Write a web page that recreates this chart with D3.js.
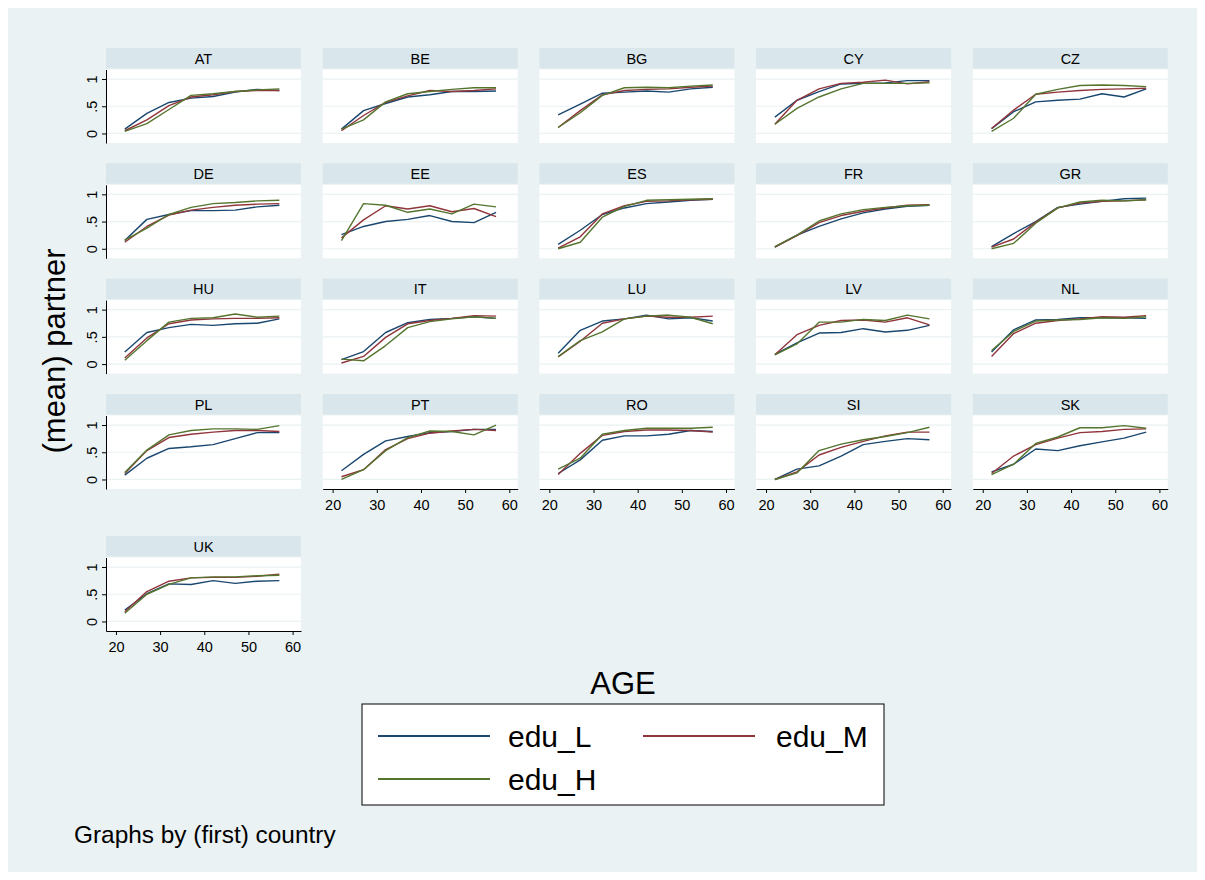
<!DOCTYPE html>
<html>
<head>
<meta charset="utf-8">
<script src="https://cdn.jsdelivr.net/npm/d3@7"></script>
<style>
  html, body { margin: 0; padding: 0; background: #ffffff; }
  svg { display: block; font-family: "Liberation Sans", Arial, sans-serif; }
</style>
</head>
<body>
<svg id="chart" width="1205" height="880"></svg>
<script>
// Share of respondents living with a partner, by age group and education level
const countries = ["AT","BE","BG","CY","CZ","DE","EE","ES","FR","GR",
                   "HU","IT","LU","LV","NL","PL","PT","RO","SI","SK","UK"];
const ages = [22, 27, 32, 37, 42, 47, 52, 57];
const xTicks = [20, 30, 40, 50, 60];
const yTicks = [0, 0.5, 1];
const yTickLabels = ["0", ".5", "1"];
const seriesNames = ["edu_L", "edu_M", "edu_H"];

const eduL = {
  AT: [0.08,0.37,0.57,0.65,0.68,0.76,0.81,0.79],
  BE: [0.08,0.42,0.55,0.67,0.71,0.77,0.77,0.78],
  BG: [0.34,0.54,0.74,0.76,0.78,0.76,0.82,0.85],
  CY: [0.30,0.61,0.77,0.91,0.92,0.93,0.97,0.97],
  CZ: [0.09,0.40,0.58,0.61,0.63,0.73,0.67,0.82],
  DE: [0.15,0.54,0.63,0.70,0.70,0.71,0.77,0.80],
  EE: [0.26,0.41,0.50,0.54,0.61,0.50,0.48,0.67],
  ES: [0.08,0.34,0.63,0.75,0.83,0.86,0.89,0.91],
  FR: [0.03,0.25,0.41,0.55,0.66,0.73,0.78,0.80],
  GR: [0.04,0.28,0.50,0.76,0.82,0.87,0.92,0.93],
  HU: [0.22,0.58,0.67,0.73,0.71,0.74,0.75,0.83],
  IT: [0.08,0.23,0.58,0.76,0.82,0.84,0.87,0.84],
  LU: [0.20,0.62,0.79,0.83,0.90,0.83,0.85,0.79],
  LV: [0.18,0.39,0.57,0.58,0.65,0.59,0.62,0.71],
  NL: [0.22,0.63,0.81,0.82,0.85,0.85,0.85,0.84],
  PL: [0.08,0.39,0.57,0.60,0.64,0.75,0.86,0.86],
  PT: [0.16,0.46,0.71,0.79,0.86,0.88,0.92,0.92],
  RO: [0.11,0.36,0.72,0.80,0.80,0.83,0.90,0.88],
  SI: [0.00,0.19,0.25,0.43,0.64,0.70,0.75,0.73],
  SK: [0.14,0.28,0.56,0.53,0.62,0.69,0.76,0.87],
  UK: [0.21,0.51,0.69,0.68,0.75,0.70,0.74,0.75]
};
const eduM = {
  AT: [0.05,0.25,0.51,0.67,0.71,0.77,0.79,0.79],
  BE: [0.05,0.33,0.57,0.69,0.79,0.77,0.79,0.82],
  BG: [0.11,0.42,0.71,0.79,0.81,0.82,0.85,0.87],
  CY: [0.17,0.61,0.82,0.92,0.94,0.98,0.91,0.95],
  CZ: [0.09,0.43,0.72,0.76,0.79,0.81,0.82,0.83],
  DE: [0.12,0.41,0.62,0.71,0.76,0.80,0.82,0.83],
  EE: [0.20,0.53,0.79,0.73,0.79,0.68,0.74,0.59],
  ES: [0.01,0.22,0.64,0.79,0.87,0.88,0.90,0.91],
  FR: [0.03,0.24,0.48,0.61,0.69,0.75,0.80,0.81],
  GR: [0.03,0.18,0.49,0.75,0.84,0.87,0.88,0.90],
  HU: [0.11,0.48,0.74,0.81,0.83,0.84,0.84,0.85],
  IT: [0.02,0.14,0.49,0.74,0.80,0.84,0.89,0.88],
  LU: [0.13,0.42,0.75,0.83,0.88,0.86,0.86,0.88],
  LV: [0.17,0.54,0.71,0.80,0.81,0.77,0.85,0.72],
  NL: [0.14,0.56,0.75,0.80,0.83,0.87,0.86,0.89],
  PL: [0.11,0.53,0.77,0.83,0.87,0.90,0.90,0.88],
  PT: [0.05,0.18,0.55,0.75,0.85,0.89,0.92,0.90],
  RO: [0.09,0.48,0.81,0.88,0.91,0.91,0.90,0.87],
  SI: [0.00,0.14,0.45,0.59,0.70,0.80,0.87,0.87],
  SK: [0.11,0.43,0.64,0.76,0.86,0.88,0.92,0.93],
  UK: [0.18,0.55,0.74,0.80,0.81,0.81,0.83,0.87]
};
const eduH = {
  AT: [0.04,0.18,0.44,0.70,0.73,0.77,0.80,0.82],
  BE: [0.08,0.25,0.58,0.73,0.77,0.81,0.84,0.84],
  BG: [0.11,0.38,0.70,0.84,0.85,0.84,0.87,0.89],
  CY: [0.17,0.46,0.67,0.82,0.92,0.92,0.92,0.93],
  CZ: [0.04,0.28,0.72,0.81,0.88,0.89,0.88,0.86],
  DE: [0.16,0.38,0.63,0.76,0.83,0.85,0.88,0.89],
  EE: [0.15,0.83,0.80,0.67,0.73,0.64,0.82,0.77],
  ES: [0.00,0.12,0.58,0.78,0.89,0.90,0.91,0.92],
  FR: [0.04,0.25,0.51,0.64,0.72,0.76,0.79,0.80],
  GR: [0.00,0.10,0.47,0.75,0.86,0.89,0.88,0.90],
  HU: [0.07,0.43,0.77,0.84,0.85,0.92,0.86,0.88],
  IT: [0.09,0.06,0.34,0.67,0.78,0.83,0.87,0.84],
  LU: [0.14,0.43,0.59,0.83,0.88,0.90,0.86,0.74],
  LV: [0.17,0.37,0.77,0.77,0.82,0.80,0.90,0.83],
  NL: [0.25,0.60,0.79,0.81,0.82,0.85,0.84,0.87],
  PL: [0.13,0.54,0.82,0.90,0.93,0.93,0.92,0.99],
  PT: [0.00,0.18,0.53,0.77,0.89,0.88,0.82,1.00],
  RO: [0.19,0.39,0.83,0.90,0.94,0.94,0.94,0.96],
  SI: [0.00,0.12,0.53,0.65,0.73,0.79,0.86,0.96],
  SK: [0.09,0.28,0.66,0.78,0.95,0.95,0.99,0.94],
  UK: [0.15,0.50,0.68,0.80,0.82,0.82,0.84,0.85]
};

const seriesData = [eduL, eduM, eduH];
const colors = ["#1a476f", "#90353b", "#55752f"];

// ---- layout ----
const BG = "#eaf2f3", STRIP = "#d9e6eb";
const FONT = "Liberation Sans, Arial, sans-serif";
const nCols = 5;
const colPitch = 216.7;
const panelLeft0 = 106;
const rowTops = [48, 163.3, 278.6, 394, 536];
const panelW = 195, stripH = 20.5, plotOffset = 21.5, plotH = 73.5;
const smallFont = 14.5;

const svg = d3.select("#chart");
svg.append("rect").attr("x", 8).attr("y", 8).attr("width", 1189).attr("height", 864).attr("fill", BG);

const x = d3.scaleLinear().domain([17.75, 61.9]).range([0, panelW]);
const y = d3.scaleLinear().domain([-0.175, 1.175]).range([plotH, 0]);
const line = d3.line().x((d, i) => x(ages[i])).y(d => y(d));

countries.forEach((c, idx) => {
  const col = idx % nCols, row = Math.floor(idx / nCols);
  const left = panelLeft0 + col * colPitch;
  const top = rowTops[row];
  const g = svg.append("g").attr("transform", `translate(${left},${top})`);

  // strip with panel title
  g.append("rect").attr("width", panelW).attr("height", stripH).attr("fill", STRIP);
  g.append("text").attr("x", panelW / 2).attr("y", 15.5)
    .attr("text-anchor", "middle").attr("font-size", smallFont).attr("fill", "#000").text(c);

  const p = g.append("g").attr("transform", `translate(0,${plotOffset})`);
  p.append("rect").attr("width", panelW).attr("height", plotH).attr("fill", "#fff");

  // horizontal grid
  p.selectAll("line.grid").data(yTicks).join("line")
    .attr("x1", 0).attr("x2", panelW)
    .attr("y1", d => y(d)).attr("y2", d => y(d))
    .attr("stroke", BG).attr("stroke-width", 1.2);

  // series
  seriesData.forEach((s, k) => {
    p.append("path").datum(s[c]).attr("d", line)
      .attr("fill", "none").attr("stroke", colors[k]).attr("stroke-width", 1.4)
      .attr("stroke-linejoin", "round");
  });

  // y axis on first column
  if (col === 0) {
    const ax = p.append("g").call(
      d3.axisLeft(y).tickValues(yTicks).tickFormat((d, i) => yTickLabels[i])
        .tickSize(4).tickSizeOuter(0));
    ax.attr("font-size", smallFont).attr("font-family", FONT);
    ax.select(".domain").attr("stroke", "#000");
    ax.selectAll(".tick line").attr("stroke", "#000");
    ax.selectAll(".tick text")
      .attr("x", null).attr("dy", null)
      .attr("transform", "translate(-9.5,0) rotate(-90)")
      .attr("text-anchor", "middle")
      .attr("fill", "#000");
  }

  // x axis where no panel sits below
  const hasBelow = idx + nCols < countries.length;
  if (!hasBelow) {
    const ax = p.append("g").attr("transform", `translate(0,${plotH})`).call(
      d3.axisBottom(x).tickValues(xTicks).tickSize(4).tickSizeOuter(0).tickPadding(7));
    ax.attr("font-size", smallFont).attr("font-family", FONT);
    ax.select(".domain").attr("stroke", "#000");
    ax.selectAll(".tick line").attr("stroke", "#000");
    ax.selectAll(".tick text").attr("fill", "#000");
  }
});

// axis titles
svg.append("text").attr("transform", "translate(65,351) rotate(-90)")
  .attr("text-anchor", "middle").attr("font-size", 31).attr("fill", "#000")
  .text("(mean) partner");
svg.append("text").attr("x", 623).attr("y", 694)
  .attr("text-anchor", "middle").attr("font-size", 31).attr("fill", "#000")
  .text("AGE");

// legend
const lg = svg.append("g");
lg.append("rect").attr("x", 362).attr("y", 704).attr("width", 522).attr("height", 101)
  .attr("fill", "#fff").attr("stroke", "#000").attr("stroke-width", 1);
const legendPos = [
  { lx: 378, ly: 736, tx: 508 },
  { lx: 643, ly: 736, tx: 776 },
  { lx: 378, ly: 779, tx: 508 }
];
seriesNames.forEach((name, k) => {
  const pos = legendPos[k];
  lg.append("line").attr("x1", pos.lx).attr("x2", pos.lx + 112)
    .attr("y1", pos.ly).attr("y2", pos.ly)
    .attr("stroke", colors[k]).attr("stroke-width", 2);
  lg.append("text").attr("x", pos.tx).attr("y", pos.ly + 11)
    .attr("font-size", 30).attr("fill", "#000").text(name);
});

svg.append("text").attr("x", 74).attr("y", 843)
  .attr("font-size", 24.4).attr("fill", "#000").text("Graphs by (first) country");
</script>
</body>
</html>
